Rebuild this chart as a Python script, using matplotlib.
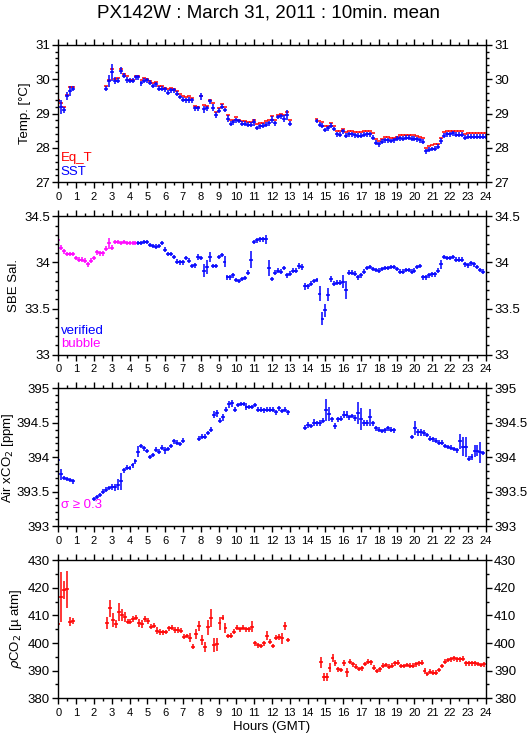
import numpy as np
import matplotlib
matplotlib.use("Agg")
import matplotlib.pyplot as plt
from matplotlib.ticker import MultipleLocator

plt.rcParams['font.family'] = ['Liberation Sans', 'DejaVu Sans']

# ---- datos (10 min, tramos con hora de inicio) ----
temp_starts = [0.0, 2.67, 14.5]
sst_segs = [
    [29.35, 29.2, 29.1, 29.5, 29.65, 29.72],
    [29.72, 29.95, 30.2, 29.95, 29.95, 30.25, 30.1, 29.97, 29.95, 29.95,
     30.05, 30.05, 29.88, 29.95, 29.97, 29.9, 29.8, 29.85, 29.72, 29.72,
     29.7, 29.6, 29.67, 29.67, 29.57, 29.48, 29.4, 29.38, 29.4, 29.38,
     29.15, 29.15, 29.5, 29.12, 29.15, 29.35, 29.17, 28.95, 29.08, 29.2,
     29.1, 28.85, 28.7, 28.75, 28.8, 28.78, 28.7, 28.7, 28.67, 28.67,
     28.75, 28.58, 28.63, 28.65, 28.68, 28.72, 28.82, 28.72, 28.9, 28.92,
     28.85, 28.95, 28.7],
    [28.78, 28.68, 28.65, 28.52, 28.57, 28.65, 28.55, 28.4, 28.38, 28.48,
     28.35, 28.4, 28.4, 28.37, 28.35, 28.35, 28.38, 28.4, 28.4, 28.3,
     28.15, 28.1, 28.18, 28.22, 28.22, 28.2, 28.22, 28.27, 28.28, 28.27,
     28.3, 28.3, 28.27, 28.27, 28.25, 28.22, 28.18, 27.9, 27.95, 27.97,
     27.98, 28.03, 28.2, 28.35, 28.4, 28.4, 28.42, 28.38, 28.38, 28.38,
     28.3, 28.32, 28.33, 28.33, 28.33, 28.33, 28.33, 28.33],
]
eqt_segs = [
    [29.38, 29.32, 29.18, 29.55, 29.78, 29.78],
    [29.8, 29.97, 30.28, 30.0, 30.02, 30.28, 30.15, 30.08, 29.98, 29.98,
     30.08, 30.1, 29.98, 30.02, 30.0, 29.95, 29.9, 29.92, 29.8, 29.8,
     29.75, 29.7, 29.73, 29.7, 29.65, 29.58, 29.5, 29.48, 29.5, 29.45,
     29.22, 29.2, 29.52, 29.25, 29.22, 29.4, 29.3, 29.05, 29.15, 29.28,
     29.2, 28.95, 28.8, 28.8, 28.9, 28.82, 28.78, 28.78, 28.75, 28.76,
     28.82, 28.7, 28.72, 28.72, 28.78, 28.82, 28.92, 28.8, 28.95, 28.98,
     28.95, 29.05, 28.82],
    [28.85, 28.78, 28.75, 28.65, 28.65, 28.72, 28.65, 28.5, 28.48, 28.55,
     28.47, 28.48, 28.48, 28.47, 28.45, 28.45, 28.48, 28.48, 28.48, 28.42,
     28.25, 28.2, 28.25, 28.33, 28.33, 28.28, 28.3, 28.33, 28.38, 28.38,
     28.38, 28.38, 28.37, 28.37, 28.35, 28.32, 28.3, 28.0, 28.05, 28.08,
     28.1, 28.12, 28.3, 28.45, 28.5, 28.48, 28.5, 28.48, 28.48, 28.48,
     28.4, 28.42, 28.42, 28.42, 28.42, 28.42, 28.42, 28.42],
]
sst_err = {0: 0.14, 1: 0.2, 2: 0.09, 3: 0.12, 4: 0.14, 6: 0.08, 7: 0.17, 8: 0.25,
           9: 0.1, 11: 0.1, 12: 0.08, 13: 0.08, 18: 0.06, 34: 0.08, 38: 0.1,
           39: 0.1, 41: 0.06, 42: 0.1, 43: 0.08, 44: 0.06, 47: 0.1, 56: 0.1,
           62: 0.1, 66: 0.1, 67: 0.15, 68: 0.06, 71: 0.08, 111: 0.1}

sal_start = 0.0
sal_n_bubble = 27
sal = [34.24, 34.16, 34.12, 34.09, 34.09, 34.09, 34.05, 34.03, 34.03, 34.02,
       33.98, 34.02, 34.05, 34.11, 34.10, 34.10, 34.15, 34.21, 34.16, 34.22,
       34.22, 34.21, 34.22, 34.21, 34.21, 34.21, 34.21, 34.21, 34.21, 34.22,
       34.22, 34.19, 34.18, 34.17, 34.18, 34.21, 34.14, 34.09, 34.09, 34.06,
       34.01, 34.00, 34.00, 34.05, 34.02, 33.96, 33.97, 34.06, 34.05, 33.91,
       33.95, 34.06, 33.96, 33.96, 34.06, 34.08, 34.01, 33.84, 33.84, 33.86,
       33.81, 33.80, 33.82, 33.83, 33.89, 34.03, 34.22, 34.24, 34.25, 34.25,
       34.25, 33.94, 33.82, 33.89, 33.91, 33.90, 33.94, 33.86, 33.88, 33.91,
       33.91, 33.96, 33.95, 33.74, 33.74, 33.77, 33.80, 33.81, 33.66, 33.39,
       33.48, 33.65, 33.82, 33.77, 33.78, 33.78, 33.79, 33.70, 33.89, 33.89,
       33.88, 33.84, 33.86, 33.90, 33.94, 33.95, 33.93, 33.92, 33.91, 33.93,
       33.94, 33.94, 33.95, 33.95, 33.93, 33.90, 33.90, 33.92, 33.92, 33.90,
       33.91, 33.95, 33.96, 33.84, 33.84, 33.86, 33.87, 33.87, 33.91, 33.98,
       34.06, 34.05, 34.05, 34.06, 34.03, 34.03, 34.03, 33.98, 33.97, 33.99,
       33.98, 33.95, 33.92, 33.90]
sal_err = {1: 0.03, 17: 0.06, 47: 0.03, 49: 0.07, 50: 0.08, 51: 0.05, 56: 0.06,
           64: 0.03, 65: 0.09, 70: 0.05, 71: 0.09, 81: 0.03, 82: 0.03, 83: 0.04,
           88: 0.08, 89: 0.07, 90: 0.07, 91: 0.07, 92: 0.03, 96: 0.07, 97: 0.1,
           129: 0.05}

xco2_starts = [0.0, 2.0, 7.9, 13.85, 19.87]
xco2_segs = [
    [393.96, 393.75, 393.70, 393.68, 393.67, 393.65],
    [393.39, 393.42, 393.45, 393.50, 393.53, 393.55, 393.57, 393.56, 393.60, 393.65,
     393.81, 393.85, 393.84, 393.88, 393.94, 394.08, 394.16, 394.13, 394.09, 394.00,
     394.03, 394.11, 394.08, 394.14, 394.10, 394.12, 394.16, 394.23, 394.21, 394.19,
     394.24],
    [394.27, 394.30, 394.30, 394.35, 394.40, 394.62, 394.64, 394.53, 394.58, 394.69,
     394.77, 394.78, 394.69, 394.76, 394.77, 394.77, 394.73, 394.73, 394.73, 394.76,
     394.69, 394.69, 394.68, 394.69, 394.69, 394.69, 394.65, 394.71, 394.67, 394.69,
     394.65],
    [394.43, 394.47, 394.45, 394.50, 394.49, 394.50, 394.53, 394.69, 394.63, 394.55,
     394.45, 394.55, 394.56, 394.62, 394.62, 394.58, 394.60, 394.57, 394.64, 394.56,
     394.50, 394.50, 394.58, 394.49, 394.42, 394.40, 394.38, 394.39, 394.42, 394.40,
     394.39],
    [394.29, 394.42, 394.36, 394.36, 394.35, 394.32, 394.27, 394.26, 394.24, 394.21,
     394.21, 394.16, 394.15, 394.14, 394.12, 394.10, 394.23, 394.15, 394.15, 393.98,
     394.00, 394.09, 394.09, 394.07, 394.06],
]
xco2_err_segs = [
    [0.13, 0.08, 0.03, 0.03, 0.02, 0.02],
    [0.02, 0.02, 0.02, 0.03, 0.03, 0.03, 0.04, 0.05, 0.08, 0.12,
     0.03, 0.03, 0.02, 0.03, 0.03, 0.08, 0.03, 0.03, 0.03, 0.02,
     0.03, 0.04, 0.02, 0.04, 0.05, 0.03, 0.02, 0.03, 0.03, 0.03,
     0.02],
    [0.04, 0.03, 0.03, 0.03, 0.04, 0.05, 0.05, 0.04, 0.05, 0.04,
     0.05, 0.05, 0.04, 0.03, 0.03, 0.03, 0.05, 0.03, 0.03, 0.03,
     0.03, 0.04, 0.04, 0.04, 0.03, 0.03, 0.03, 0.04, 0.03, 0.04,
     0.03],
    [0.04, 0.04, 0.03, 0.05, 0.04, 0.04, 0.03, 0.16, 0.10, 0.04,
     0.04, 0.04, 0.03, 0.05, 0.05, 0.03, 0.03, 0.04, 0.16, 0.16,
     0.04, 0.04, 0.12, 0.03, 0.02, 0.02, 0.02, 0.02, 0.04, 0.03,
     0.02],
    [0.03, 0.10, 0.05, 0.05, 0.04, 0.03, 0.03, 0.03, 0.03, 0.03,
     0.03, 0.03, 0.03, 0.04, 0.03, 0.03, 0.11, 0.14, 0.15, 0.04,
     0.04, 0.09, 0.08, 0.15, 0.03],
]

pco2_starts = [0.0, 2.72, 14.73]
pco2_segs = [
    [406.8, 416.8, 419.3, 419.5, 407.8, 408.1],
    [407.2, 412.6, 408.4, 406.8, 411.4, 410.2, 409.6, 407.8, 407.8, 408.7,
     409.2, 407.4, 406.8, 408.7, 408.0, 406.0, 406.3, 404.5, 404.0, 403.9,
     404.0, 405.4, 405.6, 404.8, 404.8, 404.5, 402.3, 402.6, 402.0, 398.7,
     403.2, 406.3, 401.1, 398.5, 405.7, 409.0, 399.3, 399.6, 407.2, 409.2,
     405.4, 402.6, 402.7, 404.2, 405.6, 405.0, 405.6, 405.0, 405.0, 406.0,
     399.9, 399.2, 399.0, 399.9, 402.7, 400.5, 399.0, 402.0, 402.3, 401.7,
     406.2, 401.1],
    [393.0, 387.6, 387.6, 391.1, 394.5, 392.7, 390.5, 390.3, 392.7, 389.4,
     393.3, 392.3, 391.5, 390.6, 390.9, 392.4, 393.3, 393.0, 391.1, 389.9,
     390.5, 391.8, 392.1, 391.5, 391.8, 392.7, 392.9, 391.7, 391.7, 392.1,
     391.8, 391.8, 392.3, 392.7, 392.9, 389.9, 388.8, 389.7, 389.3, 389.3,
     390.3, 391.7, 393.3, 393.9, 394.1, 394.5, 394.1, 394.1, 394.3, 392.7,
     392.7, 392.7, 392.7, 392.4, 392.1, 392.3],
]
pco2_err_segs = [
    [3.4, 9.0, 3.3, 6.8, 1.6, 1.0],
    [2.1, 3.0, 2.6, 1.5, 3.3, 2.3, 1.8, 1.0, 1.0, 1.0,
     1.0, 1.5, 1.5, 1.0, 1.0, 1.0, 1.0, 1.2, 1.0, 0.5,
     0.5, 0.8, 0.8, 1.0, 1.0, 1.0, 0.8, 0.8, 1.5, 1.0,
     1.8, 1.8, 1.8, 1.8, 2.7, 3.3, 2.4, 2.4, 2.3, 0.8,
     1.8, 0.5, 0.5, 0.8, 0.8, 0.8, 0.8, 0.8, 0.8, 2.0,
     1.0, 0.5, 0.5, 0.5, 1.6, 0.8, 0.8, 1.0, 1.0, 1.9,
     1.6, 0.8],
    [2.0, 1.5, 1.5, 1.6, 1.5, 1.0, 0.8, 0.8, 1.0, 1.6,
     0.8, 0.5, 0.5, 0.8, 0.5, 0.5, 0.8, 0.5, 1.0, 0.5,
     0.8, 0.5, 0.5, 0.5, 0.5, 0.8, 0.5, 0.5, 0.5, 0.5,
     0.5, 0.5, 0.5, 0.5, 0.5, 1.2, 0.8, 0.5, 0.5, 0.5,
     0.8, 0.8, 0.8, 0.5, 0.5, 0.8, 0.5, 0.5, 0.5, 0.5,
     0.5, 0.5, 0.5, 0.5, 0.5, 0.5],
]

paso = 1 / 6  # 10 min
ancho = 0.11  # media anchura de la cruz en horas


def horas(starts, segs):
    return np.concatenate([s + np.arange(len(v)) * paso for s, v in zip(starts, segs)])


def err_de(n, d):
    e = np.zeros(n)
    for k, v in d.items():
        e[k] = v
    return e


def cruces(ax, t, v, e, color, ymin_err):
    e = np.maximum(e, ymin_err)
    ax.errorbar(t, v, xerr=ancho, yerr=e, fmt='none', ecolor=color,
                elinewidth=1.1, capsize=0)


def preparar(ax, ylim, major, minor):
    ax.set_xlim(0, 24)
    ax.set_ylim(*ylim)
    ax.xaxis.set_major_locator(MultipleLocator(1))
    ax.xaxis.set_minor_locator(MultipleLocator(0.5))
    ax.yaxis.set_major_locator(MultipleLocator(major))
    ax.yaxis.set_minor_locator(MultipleLocator(minor))
    ax.yaxis.set_major_formatter(lambda x, pos: '%g' % x)
    ax.tick_params(which='both', direction='out', top=True, right=True,
                   labelright=True, width=1, color='black')
    ax.tick_params(which='major', length=4.5)
    ax.tick_params(which='minor', length=2.5)
    ax.tick_params(axis='x', labelsize=8, pad=2.5)
    ax.tick_params(axis='y', labelsize=9.5, pad=1.5)
    for s in ax.spines.values():
        s.set_linewidth(1)


fig = plt.figure(figsize=(5.29, 7.39), dpi=100)
left, width = 0.1102, 0.808
ax1 = fig.add_axes([left, 0.7533, width, 0.1862])
ax2 = fig.add_axes([left, 0.5200, width, 0.1873])
ax3 = fig.add_axes([left, 0.2882, width, 0.1863])
ax4 = fig.add_axes([left, 0.0551, width, 0.1867])

fig.text(0.507, 0.982, 'PX142W : March 31, 2011 : 10min. mean', ha='center',
         va='center', fontsize=13.5)

# temperatura
t_temp = horas(temp_starts, sst_segs)
sst = np.concatenate(sst_segs)
eqt = np.concatenate(eqt_segs)
ax1.errorbar(t_temp, eqt, xerr=ancho, fmt='none', ecolor='red', elinewidth=1.1, capsize=0)
cruces(ax1, t_temp, sst, err_de(len(sst), sst_err), 'blue', 0.07)
preparar(ax1, (27, 31), 1, 0.2)
ax1.set_ylabel('Temp. [°C]', fontsize=9.5, labelpad=3)
ax1.text(0.006, 0.177, 'Eq_T', color='red', transform=ax1.transAxes, va='center', fontsize=9.5)
ax1.text(0.006, 0.075, 'SST', color='blue', transform=ax1.transAxes, va='center', fontsize=9.5)

# salinidad
t_sal = sal_start + np.arange(len(sal)) * paso
sal = np.array(sal)
e_sal = err_de(len(sal), sal_err)
nb = sal_n_bubble
cruces(ax2, t_sal[nb:], sal[nb:], e_sal[nb:], 'blue', 0.025)
cruces(ax2, t_sal[:nb], sal[:nb], e_sal[:nb], 'magenta', 0.025)
preparar(ax2, (33, 34.5), 0.5, 0.1)
ax2.set_ylabel('SBE Sal.', fontsize=9.5, labelpad=3)
ax2.text(0.006, 0.171, 'verified', color='blue', transform=ax2.transAxes, va='center', fontsize=9.5)
ax2.text(0.006, 0.077, 'bubble', color='magenta', transform=ax2.transAxes, va='center', fontsize=9.5)

# xCO2 aire
t_x = horas(xco2_starts, xco2_segs)
cruces(ax3, t_x, np.concatenate(xco2_segs), np.concatenate(xco2_err_segs), 'blue', 0.033)
preparar(ax3, (393, 395), 0.5, 0.1)
ax3.set_ylabel('Air xCO$_2$ [ppm]', fontsize=9.5, labelpad=0.5)
ax3.text(0.006, 0.153, 'σ ≥ 0.3', color='magenta', transform=ax3.transAxes, va='center', fontsize=9.5)

# pCO2
t_p = horas(pco2_starts, pco2_segs)
cruces(ax4, t_p, np.concatenate(pco2_segs), np.concatenate(pco2_err_segs), 'red', 0.85)
preparar(ax4, (380, 430), 10, 5)
ax4.set_ylabel('$\\rho$CO$_2$ [µ atm]', fontsize=9.5, labelpad=3)

fig.text(0.514, 0.016, 'Hours (GMT)', ha='center', va='center', fontsize=9.5)

fig.savefig('out.png', dpi=100)
